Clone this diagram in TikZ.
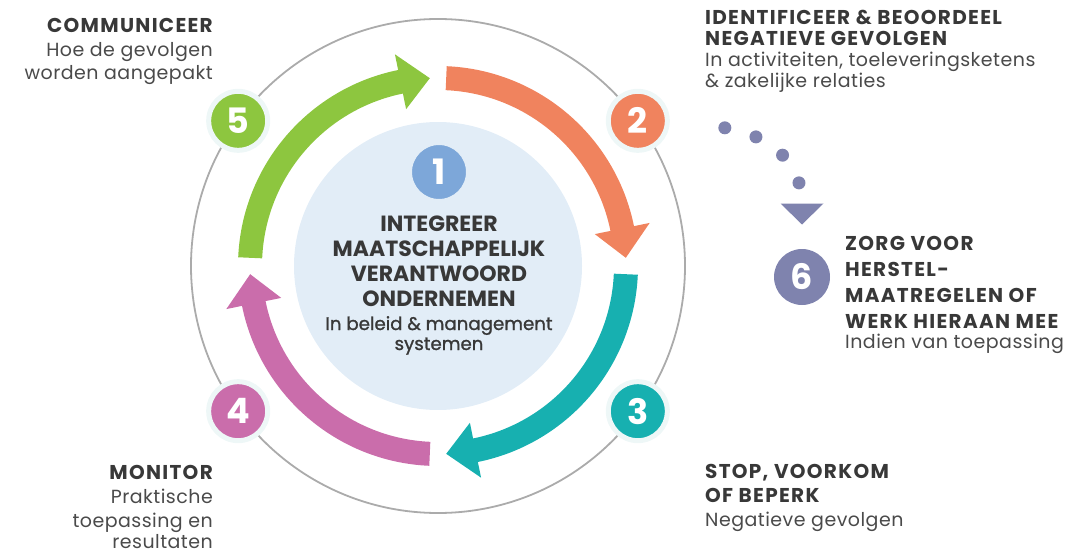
\documentclass[tikz,border=0pt]{standalone}
\usepackage{fontspec}
\setmainfont{Poppins}
\usetikzlibrary{arrows.meta,positioning,calc}
\definecolor{oranje}{HTML}{F0835E}
\definecolor{turkoois}{HTML}{17B0B0}
\definecolor{roze}{HTML}{CA6DAB}
\definecolor{groen}{HTML}{8DC63F}
\definecolor{blauw}{HTML}{7DA7D9}
\definecolor{paars}{HTML}{7F83AE}
\definecolor{binnen}{HTML}{E2EDF7}
\definecolor{halo}{HTML}{EEF7F7}
\definecolor{grijs}{HTML}{ABABAB}
\definecolor{donker}{HTML}{383838}
\definecolor{tekst}{HTML}{4A4A4A}
\newcommand{\kop}[1]{{\color{donker}\fontsize{20}{20}\bfseries\addfontfeatures{LetterSpace=6.5}#1}}
\newcommand{\midkop}[1]{\textbf{\color{donker}#1}}
\newcommand{\onder}[1]{{\color{donker}\fontsize{18.2}{20}\selectfont\addfontfeatures{FakeBold=1.2}#1}}
% fleche courbe : #1 angle de depart, #2 couleur
\newcommand{\pijl}[2]{\fill[#2] (#1-2.5:200pt) arc[start angle=#1-2.5, end angle=#1-78.5, radius=200pt] -- (#1-78.5:216pt) -- (#1-87.5:188pt) -- (#1-78.5:160pt) -- (#1-78.5:176pt) arc[start angle=#1-78.5, end angle=#1-2.5, radius=176pt] -- cycle;}
\begin{document}
\begin{tikzpicture}[x=1pt,y=1pt]
\tikzset{cijfer/.style={circle,fill=#1,draw=halo,line width=5pt,minimum size=59pt,inner sep=0pt,text=white,font=\bfseries\fontsize{35}{35}\selectfont},
label/.style={inner sep=0pt,text=tekst,font=\fontsize{19}{#1}\selectfont\addfontfeatures{LetterSpace=2.5}},
stippel/.style={paars,line width=13pt,line cap=round,dash pattern=on 0pt off 32.5pt,-{Triangle[width=43pt,length=21pt,line width=0pt]}}}
\useasboundingbox (0,0) rectangle (1068,550);
\coordinate (C) at (438,284);
\draw[grijs,line width=1.8pt] (C) circle[radius=247pt];
\fill[binnen] (C) circle[radius=144pt];
\begin{scope}[shift={(C)}] %les quatre fleches
\pijl{90}{oranje}
\pijl{0}{turkoois}
\pijl{-90}{roze}
\pijl{180}{groen}
\end{scope}
\node[cijfer=blauw,draw=binnen] (c1) at (439,378) {1};
\node[cijfer=oranje] (c2) at ($(C)+(36:247pt)$) {2};
\node[cijfer=turkoois] (c3) at ($(C)+(-36:247pt)$) {3};
\node[cijfer=roze] (c4) at ($(C)+(216:247pt)$) {4};
\node[cijfer=groen] (c5) at ($(C)+(144:247pt)$) {5};
\node[cijfer=paars,draw=none,minimum size=56pt] (c6) at (802,273) {6};
\draw[stippel] ([xshift=87pt,yshift=-7pt]c2.center) .. controls +(50,-8) and +(0,58) .. ([yshift=22pt]c6.north);
% textes
\node[inner sep=0pt,text=tekst,align=center,anchor=base,font=\fontsize{22}{25}\selectfont] (t1) at (439,200) {\midkop{INTEGREER}\\\midkop{MAATSCHAPPELIJK}\\\midkop{VERANTWOORD}\\\midkop{ONDERNEMEN}\\[-1pt]\onder{In beleid \& management}\\[-5pt]\onder{systemen}};
\node[label=21,align=left,anchor=base west] (t2) at (705,462) {\kop{IDENTIFICEER \& BEOORDEEL}\\\kop{NEGATIEVE GEVOLGEN}\\In activiteiten, toeleveringsketens\\\& zakelijke relaties};
\node[label=24,align=left,anchor=base west] (t3) at (705,24) {\kop{STOP, VOORKOM}\\\kop{OF BEPERK}\\Negatieve gevolgen};
\node[label=24,align=right,anchor=base east] (t4) at (213,2) {\kop{MONITOR}\\Praktische\\toepassing en\\[-3pt]resultaten};
\node[label=23.5,align=right,anchor=base east] (t5) at (213,470) {\kop{COMMUNICEER}\\Hoe de gevolgen\\worden aangepakt};
\node[label=26,align=left,anchor=base west] (t6) at (845,202) {\kop{ZORG VOOR}\\\kop{HERSTEL-}\\\kop{MAATREGELEN OF}\\\kop{WERK HIERAAN MEE}\\[-6pt]Indien van toepassing};
\end{tikzpicture}
\end{document}
